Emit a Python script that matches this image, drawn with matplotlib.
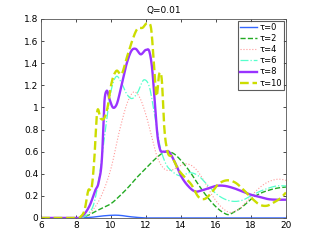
import matplotlib
matplotlib.use("Agg")
import matplotlib.pyplot as plt
import numpy as np

labels = ["τ=0", "τ=2", "τ=4", "τ=6", "τ=8", "τ=10"]

x0 = [6, 8, 8.5, 9, 9.5, 10, 10.3, 10.6, 11, 11.5, 12, 20]
y0 = [0, 0, 0.002, 0.008, 0.018, 0.024, 0.025, 0.022, 0.013, 0.005, 0, 0]

x2 = [6, 8, 8.3, 8.7, 9, 9.5, 10, 10.5, 11, 11.5, 12, 12.5, 13, 13.3, 13.6, 14, 14.5, 15, 15.5, 16, 16.4, 16.7, 17, 17.5, 18, 18.5, 19, 19.5, 20]
y2 = [0, 0, 0.005, 0.025, 0.05, 0.09, 0.13, 0.2, 0.28, 0.37, 0.45, 0.53, 0.59, 0.6, 0.58, 0.52, 0.42, 0.3, 0.19, 0.1, 0.05, 0.03, 0.05, 0.1, 0.17, 0.22, 0.25, 0.27, 0.28]

x4 = [6, 8.3, 8.7, 9, 9.5, 10, 10.5, 11, 11.3, 11.6, 12, 12.3, 12.6, 13, 13.4, 13.8, 14.3, 14.8, 15.3, 15.8, 16.3, 16.8, 17.2, 17.7, 18.2, 18.7, 19.2, 19.7, 20]
y4 = [0, 0, 0.03, 0.08, 0.22, 0.45, 0.8, 1.07, 1.14, 1.1, 0.93, 0.75, 0.57, 0.45, 0.43, 0.46, 0.49, 0.45, 0.34, 0.2, 0.1, 0.05, 0.07, 0.14, 0.23, 0.3, 0.34, 0.35, 0.34]

x6 = [6, 8.3, 8.7, 9, 9.3, 9.6, 10, 10.3, 10.6, 10.9, 11.2, 11.5, 11.9, 12.2, 12.5, 12.8, 13.1, 13.5, 14, 14.5, 15, 15.5, 16, 16.5, 17, 17.5, 18, 18.5, 19, 19.5, 20]
y6 = [0, 0, 0.04, 0.12, 0.35, 0.7, 1.15, 1.28, 1.22, 1.12, 1.08, 1.13, 1.25, 1.18, 0.92, 0.65, 0.5, 0.42, 0.38, 0.41, 0.38, 0.3, 0.22, 0.17, 0.15, 0.16, 0.2, 0.24, 0.27, 0.29, 0.29]

x8 = [6, 8.2, 8.5, 8.8, 9.1, 9.3, 9.5, 9.6, 9.75, 9.9, 10.1, 10.3, 10.6, 10.9, 11.2, 11.4, 11.7, 12.0, 12.2, 12.35, 12.5, 12.65, 12.8, 13.0, 13.3, 13.6, 14, 14.4, 14.8, 15.2, 15.6, 16, 16.5, 17, 17.5, 18, 18.5, 19, 19.5, 20]
y8 = [0, 0, 0.04, 0.12, 0.25, 0.33, 0.6, 1.0, 1.15, 1.08, 1.0, 1.02, 1.2, 1.4, 1.52, 1.53, 1.48, 1.52, 1.5, 1.35, 1.05, 0.75, 0.62, 0.6, 0.6, 0.52, 0.38, 0.29, 0.24, 0.25, 0.27, 0.29, 0.29, 0.27, 0.24, 0.21, 0.19, 0.17, 0.165, 0.165]

x10 = [6, 8.2, 8.5, 8.7, 8.9, 9.05, 9.2, 9.4, 9.6, 9.8, 10.0, 10.3, 10.6, 10.9, 11.2, 11.5, 11.8, 12.1, 12.3, 12.45, 12.6, 12.75, 12.9, 13.05, 13.2, 13.5, 13.8, 14.2, 14.6, 15.0, 15.3, 15.7, 16.1, 16.6, 17.1, 17.6, 18.1, 18.5, 18.9, 19.3, 19.7, 20]
y10 = [0, 0, 0.08, 0.25, 0.28, 0.55, 0.95, 0.9, 0.9, 1.0, 1.2, 1.33, 1.3, 1.45, 1.6, 1.71, 1.72, 1.76, 1.7, 1.4, 1.1, 1.3, 1.25, 0.8, 0.62, 0.55, 0.45, 0.37, 0.3, 0.19, 0.17, 0.22, 0.3, 0.34, 0.32, 0.25, 0.17, 0.12, 0.11, 0.14, 0.18, 0.23]

xs = [x0, x2, x4, x6, x8, x10]
ys = [y0, y2, y4, y6, y8, y10]
colors = ["#3366ff", "#22aa22", "#ff9999", "#55ffcc", "#9933ff", "#ccdd00"]
styles = ["-", "--", ":", "-.", "-", "--"]
widths = [1.0, 1.0, 0.8, 0.9, 1.7, 1.7]

def smooth(x, y, n=600):
    x = np.asarray(x, float); y = np.asarray(y, float)
    xx = np.linspace(x[0], x[-1], n)
    m = np.gradient(y, x)
    idx = np.clip(np.searchsorted(x, xx) - 1, 0, len(x) - 2)
    h = x[idx + 1] - x[idx]
    t = (xx - x[idx]) / h
    h00 = 2*t**3 - 3*t**2 + 1
    h10 = t**3 - 2*t**2 + t
    h01 = -2*t**3 + 3*t**2
    h11 = t**3 - t**2
    yy = h00*y[idx] + h10*h*m[idx] + h01*y[idx+1] + h11*h*m[idx+1]
    return xx, np.maximum(yy, 0)

plt.rcParams['font.family'] = ['DejaVu Sans']
fig = plt.figure(figsize=(3.16, 2.46), dpi=100)
ax = fig.add_axes([0.130, 0.114, 0.775, 0.809])
for x, y, c, s, w, l in zip(xs, ys, colors, styles, widths, labels):
    sx, sy = smooth(x, y)
    ax.plot(sx, sy, color=c, linestyle=s, linewidth=w, label=l)

ax.set_xlim(6, 20)
ax.set_ylim(0, 1.8)
ax.set_xticks(np.arange(6, 21, 2))
ax.set_yticks([0, 0.2, 0.4, 0.6, 0.8, 1, 1.2, 1.4, 1.6, 1.8])
ax.set_yticklabels(["0", "0.2", "0.4", "0.6", "0.8", "1", "1.2", "1.4", "1.6", "1.8"])
ax.tick_params(direction='in', top=True, right=True, labelsize=6.5, length=2.5, width=0.5, pad=2)
for sp in ax.spines.values():
    sp.set_linewidth(0.6)
    sp.set_color('#555555')
ax.set_title("Q=0.01", fontsize=6.5, pad=4)
leg = ax.legend(loc='upper right', fontsize=6, frameon=True, fancybox=False,
                borderpad=0.3, labelspacing=0.25, handlelength=2.0, handletextpad=0.3,
                borderaxespad=0.2)
leg.get_frame().set_edgecolor('#333333')
leg.get_frame().set_linewidth(0.8)
fig.savefig("out.png", dpi=100)
